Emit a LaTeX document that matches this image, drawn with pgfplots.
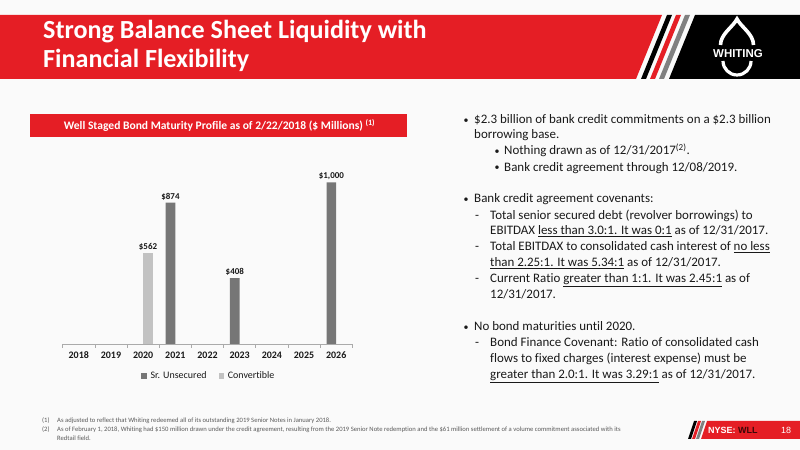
\documentclass[border=0pt]{standalone}
\usepackage{pgfplots}
\pgfplotsset{compat=1.18}
\usepackage{fontspec}
\setmainfont{Carlito}[Ligatures={NoCommon}]
\newfontfamily\arialf{Liberation Sans}
\definecolor{wred}{RGB}{229,30,37}
\definecolor{darkbar}{RGB}{118,118,118}
\definecolor{lightbar}{RGB}{194,194,194}
\definecolor{txt}{RGB}{25,25,25}
\definecolor{axgray}{RGB}{170,170,170}
\definecolor{fnote}{RGB}{90,90,90}
\definecolor{bg}{RGB}{250,250,250}
\definecolor{wll}{RGB}{60,8,8}
\newcommand{\bul}{\raisebox{0.8bp}{\fontsize{10}{12}\selectfont •}}
\begin{document}
\begin{tikzpicture}[x=1bp,y=1bp]
% background
\fill[bg] (0,0) rectangle (800,450);
% title band
\fill[wred] (0,435) -- (662,435) -- (636,371) -- (0,371) -- cycle;
\fill[black] (667,435) -- (672,435) -- (646,371) -- (641,371) -- cycle;
\fill[wred] (676,435) -- (681,435) -- (655,371) -- (650,371) -- cycle;
\fill[gray] (685,435) -- (690,435) -- (664,371) -- (659,371) -- cycle;
\fill[black] (695,435) -- (800,435) -- (800,371) -- (669,371) -- cycle;
% logo
\draw[white, line width=3.6bp, line cap=butt] (720.5,405) .. controls (720.5,416) and (733,423) .. (737,431) .. controls (741,423) and (753.5,416) .. (753.5,405);
\node[white, font=\arialf\bfseries\fontsize{11.5}{12}\selectfont, inner sep=0pt] at (738,396) {WHITING};
\draw[white, line width=3.2bp] (723,389) arc[start angle=180, end angle=360, radius=14];
% title text
\node[white, anchor=base west, inner sep=0pt, font=\bfseries\fontsize{26.2}{30}\selectfont] at (43,411) {Strong Balance Sheet Liquidity with};
\node[white, anchor=base west, inner sep=0pt, font=\bfseries\fontsize{26.2}{30}\selectfont] at (43,382.5) {Financial Flexibility};
% chart header
\fill[wred] (30,336) rectangle (407,313);
\node[white, inner sep=0pt, font=\bfseries\fontsize{11.6}{13}\selectfont] at (219.5,324.5) {Well Staged Bond Maturity Profile as of 2/22/2018 (\$ Millions) \textsuperscript{(1)}};
% chart
\begin{axis}[
  at={(62.7bp,106bp)}, anchor=south west,
  scale only axis, width=289.6bp, height=194bp,
  xmin=-0.5, xmax=8.5, ymin=0, ymax=1200,
  axis y line=none, axis x line*=bottom,
  x axis line style={draw=axgray, line width=0.6bp},
  xtick={-0.5,0.5,1.5,2.5,3.5,4.5,5.5,6.5,7.5,8.5},
  xticklabels={2018,2019,2020,2021,2022,2023,2024,2025,2026},
  x tick label as interval,
  xtick align=outside, major tick length=4bp,
  xtick style={draw=axgray, line width=0.6bp},
  tick label style={font=\bfseries\fontsize{10}{12}\selectfont, text=txt},
  ybar=0pt, bar width=9.7bp,
  clip=false,
  nodes near coords, point meta=explicit symbolic,
  nodes near coords style={font=\bfseries\fontsize{9}{10}\selectfont, text=txt, anchor=south, inner sep=2.5bp},
  legend style={draw=none, fill=none, at={(0.505,-0.165)}, anchor=center, legend columns=2,
    font=\fontsize{10}{12}\selectfont, text=txt,
    /tikz/every odd column/.append style={column sep=2bp},
    /tikz/every even column/.append style={column sep=10bp}},
]
\addplot[fill=darkbar, draw=none, legend image code/.code={\fill[darkbar] (0bp,-2.6bp) rectangle (5.2bp,2.6bp);}]
  coordinates {(3,874) [\$874] (5,408) [\$408] (8,1000) [{\$1,000}]};
\addplot[fill=lightbar, draw=none, legend image code/.code={\fill[lightbar] (0bp,-2.6bp) rectangle (5.2bp,2.6bp);}]
  coordinates {(2,562) [\$562]};
\legend{Sr. Unsecured, Convertible}
\end{axis}
% right text
\begin{scope}[every node/.style={anchor=base west, inner sep=0pt, text=txt, font=\fontsize{13}{16}\selectfont}]
\node at (463.5,326) {\bul};
\node at (474,326) {\$2.3 billion of bank credit commitments on a \$2.3 billion};
\node at (474,311) {borrowing base.};
\node at (494.5,295) {\bul};
\node at (504,295) {Nothing drawn as of 12/31/2017\textsuperscript{(2)}.};
\node at (494.5,278.5) {\bul};
\node at (504,278.5) {Bank credit agreement through 12/08/2019.};
\node at (463.5,247) {\bul};
\node at (474,247) {Bank credit agreement covenants:};
\node at (475,230.5) {-};
\node at (490,230.5) {Total senior secured debt (revolver borrowings) to};
\node at (490,215) {EBITDAX \underline{less than 3.0:1. It was 0:1} as of 12/31/2017.};
\node at (475,199) {-};
\node at (490,199) {Total EBITDAX to consolidated cash interest of \underline{no less}};
\node at (490,183) {\underline{than 2.25:1. It was 5.34:1} as of 12/31/2017.};
\node at (475,167) {-};
\node at (490,167) {Current Ratio \underline{greater than 1:1. It was 2.45:1} as of};
\node at (490,151) {12/31/2017.};
\node at (463.5,119) {\bul};
\node at (474,119) {No bond maturities until 2020.};
\node at (475,103) {-};
\node at (490,103) {Bond Finance Covenant: Ratio of consolidated cash};
\node at (490,87) {flows to fixed charges (interest expense) must be};
\node at (490,71) {\underline{greater than 2.0:1. It was 3.29:1} as of 12/31/2017.};
\end{scope}
% footnotes
\begin{scope}[every node/.style={anchor=base west, inner sep=0pt, text=fnote, font=\fontsize{6.65}{8}\selectfont}]
\node at (42,27) {(1)};
\node at (57,27) {As adjusted to reflect that Whiting redeemed all of its outstanding 2019 Senior Notes in January 2018.};
\node at (42,18) {(2)};
\node at (57,18) {As of February 1, 2018, Whiting had \$150 million drawn under the credit agreement, resulting from the 2019 Senior Note redemption and the \$61 million settlement of a volume commitment associated with its};
\node at (57,9) {Redtail field.};
\end{scope}
% bottom right
\fill[black] (694,29) -- (697,29) -- (691,11) -- (688,11) -- cycle;
\fill[wred] (698,29) -- (701,29) -- (695,11) -- (692,11) -- cycle;
\fill[gray] (702,29) -- (705,29) -- (699,11) -- (696,11) -- cycle;
\fill[wred] (707,29) -- (800,29) -- (800,11) -- (701,11) -- cycle;
\node[anchor=base west, inner sep=0pt, font=\arialf\bfseries\fontsize{9}{10}\selectfont] at (708,16.5) {\textcolor{white}{NYSE:} \textcolor{wll}{WLL}};
\node[anchor=base west, inner sep=0pt, text=white, font=\arialf\fontsize{9}{10}\selectfont] at (781,16.5) {18};
\end{tikzpicture}
\end{document}
